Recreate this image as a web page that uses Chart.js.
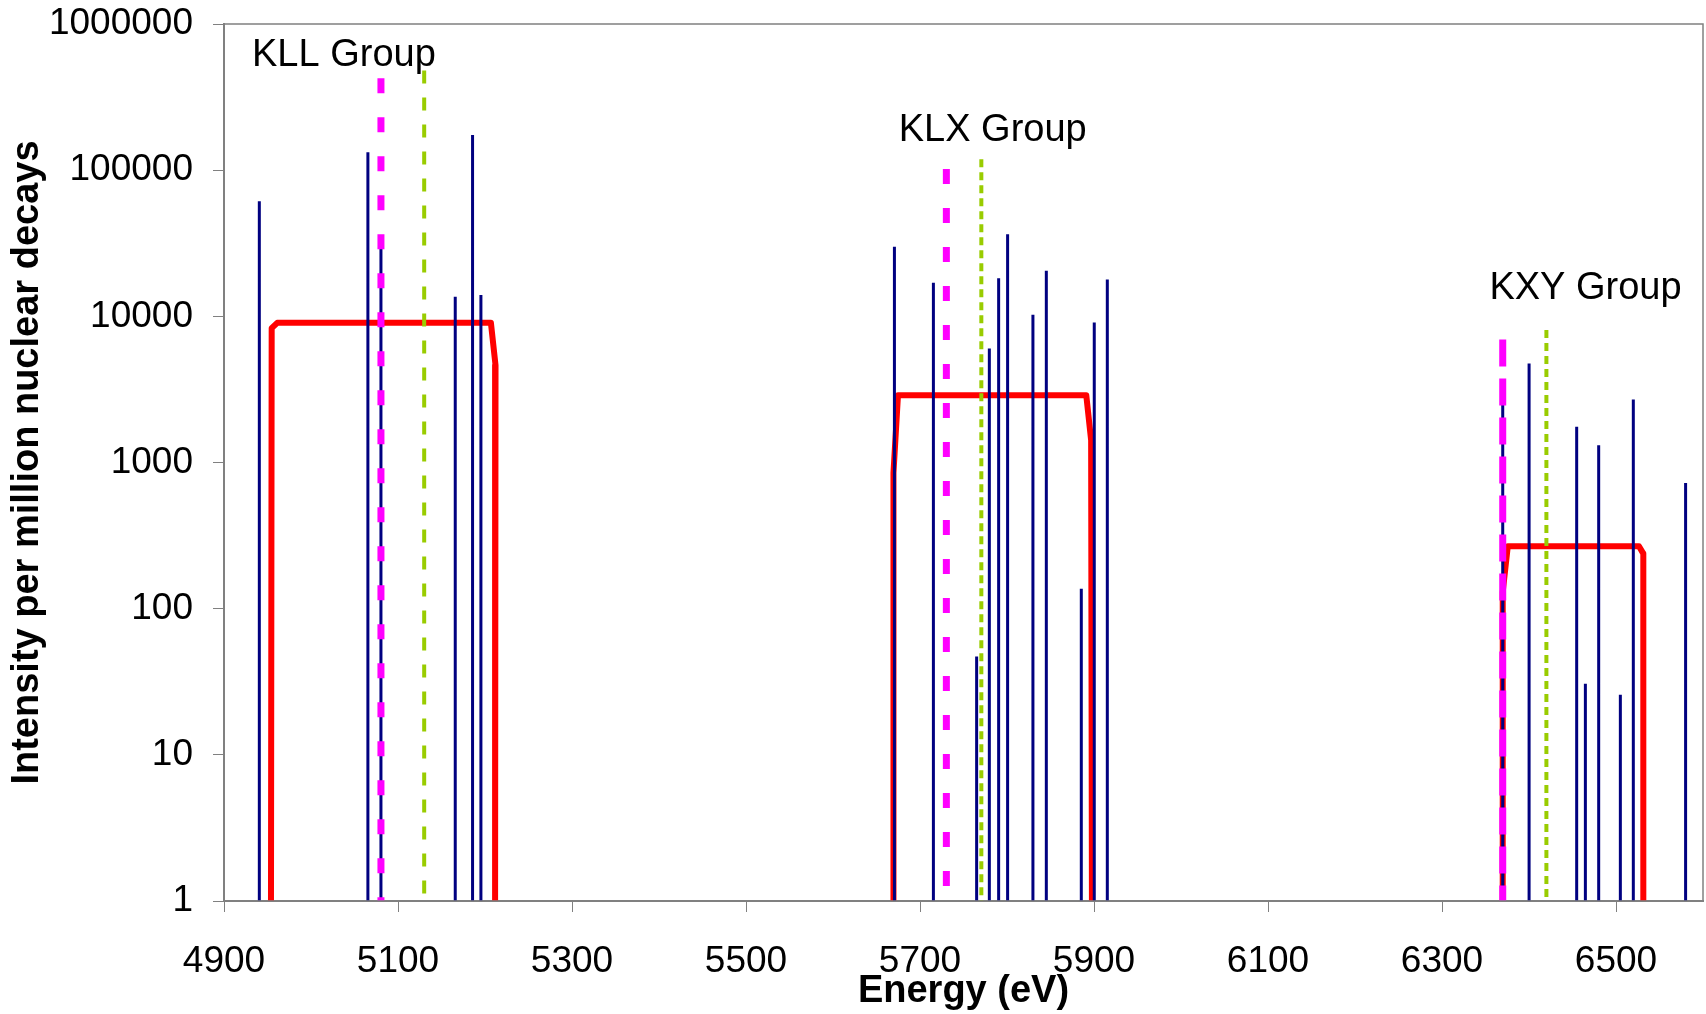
<!DOCTYPE html>
<html lang="en">
<head>
  <meta charset="UTF-8" />
  <title>K Auger spectrum - groups</title>
  <script src="https://cdn.jsdelivr.net/npm/chart.js"></script>
  <style>
    html, body { margin: 0; padding: 0; background: #fff; }
  </style>
</head>
<body>
  <canvas id="augerChart" width="1706" height="1014"></canvas>

  <script>
    // Individual Auger lines (eV, intensity per million decays)
    const peakEnergy = [4940.6, 5065.4, 5080.4, 5165.8, 5185.7, 5195.3,
                        5670.6, 5715.4, 5765.1, 5779.7, 5790.4, 5800.7, 5829.8, 5845.2, 5885.4, 5900.3, 5915.3,
                        6369.8, 6400.1, 6454.8, 6464.8, 6480.1, 6505.0, 6519.9, 6580.0];
    const peakIntensity = [61400, 132400, 30000, 13600, 173800, 14000,
                           29900, 16950, 47, 6030, 18250, 36500, 10240, 20480, 137, 9090, 17870,
                           2700, 4760, 1753, 30.7, 1313, 25.8, 2700, 725];

    // Group envelopes (red)
    const kllBoxEnergy = [4954.0, 4954.8, 4961.2, 5206.8, 5212.1, 5211.6];
    const kllBoxIntensity = [1, 8300, 9030, 9030, 4630, 1];
    const klxBoxEnergy = [5669.0, 5669.5, 5674.7, 5891.1, 5896.7, 5897.6];
    const klxBoxIntensity = [1, 850, 2890, 2890, 1420, 1];
    const kxyBoxEnergy = [6369.1, 6369.8, 6375.6, 6526.4, 6531.4, 6531.4];
    const kxyBoxIntensity = [1, 130, 267, 267, 238, 1];

    // Group markers (magenta dashed, green dotted)
    const meanEnergy = [5080.4, 5730.3, 6369.8];
    const meanTop = [425000, 101800, 6950];
    const centroidEnergy = [5130.1, 5770.5, 6420.0];
    const centroidTop = [480000, 118600, 8050];

    // Group captions
    const groupNames = ['KLL Group', 'KLX Group', 'KXY Group'];
    const groupLabelEnergy = [4932.2, 5675.5, 6354.5];
    const groupLabelIntensity = [515800, 158000, 13100];

    // Axis ticks
    const xTickValues = [4900, 5100, 5300, 5500, 5700, 5900, 6100, 6300, 6500];
    const yTickValues = [1, 10, 100, 1000, 10000, 100000, 1000000];

    const FONT = "'Liberation Sans', Arial, sans-serif";
    const magentaDash = [[15, 24], [15, 24], [27, 12]];
    const greenDash = [[13, 14], [8, 5], [8, 5]];

    // sticks: bottom -> top, then a gap
    const stickPoints = [];
    peakEnergy.forEach((e, i) => {
      stickPoints.push({ x: e, y: 1 }, { x: e, y: peakIntensity[i] }, { x: e, y: null });
    });

    function toPoints(xs, ys) {
      return xs.map((x, i) => ({ x: x, y: ys[i] }));
    }

    const datasets = [];
    // first dataset is drawn on top
    meanEnergy.forEach((e, i) => {
      datasets.push({
        label: 'mean ' + groupNames[i],
        data: [{ x: e, y: meanTop[i] }, { x: e, y: 1 }],
        borderColor: '#FF00FF', borderWidth: 7, borderDash: magentaDash[i],
        pointRadius: 0, borderCapStyle: 'butt'
      });
    });
    centroidEnergy.forEach((e, i) => {
      datasets.push({
        label: 'centroid ' + groupNames[i],
        data: [{ x: e, y: centroidTop[i] }, { x: e, y: 1 }],
        borderColor: '#99CC00', borderWidth: 4, borderDash: greenDash[i],
        pointRadius: 0, borderCapStyle: 'butt'
      });
    });
    datasets.push({
      label: 'lines',
      data: stickPoints,
      borderColor: '#000080', borderWidth: 3,
      pointRadius: 0, spanGaps: false
    });
    [[kllBoxEnergy, kllBoxIntensity], [klxBoxEnergy, klxBoxIntensity], [kxyBoxEnergy, kxyBoxIntensity]].forEach((b, i) => {
      datasets.push({
        label: 'envelope ' + groupNames[i],
        data: toPoints(b[0], b[1]),
        borderColor: '#FF0000', borderWidth: 6,
        borderJoinStyle: 'round', pointRadius: 0
      });
    });

    // frame around plot + group captions
    const decorPlugin = {
      id: 'decor',
      afterDraw(chart) {
        const { ctx, chartArea, scales } = chart;
        ctx.save();
        ctx.strokeStyle = '#808080';
        ctx.lineWidth = 1.5;
        ctx.strokeRect(chartArea.left, chartArea.top, chartArea.right - chartArea.left, chartArea.bottom - chartArea.top);
        ctx.fillStyle = '#000';
        ctx.font = '38px ' + FONT;
        ctx.textAlign = 'left';
        ctx.textBaseline = 'alphabetic';
        groupNames.forEach((name, i) => {
          ctx.fillText(name, scales.x.getPixelForValue(groupLabelEnergy[i]), scales.y.getPixelForValue(groupLabelIntensity[i]));
        });
        ctx.restore();
      }
    };

    new Chart(document.getElementById('augerChart'), {
      type: 'line',
      data: { datasets: datasets },
      options: {
        responsive: false,
        animation: false,
        events: [],
        elements: { line: { tension: 0 } },
        layout: { padding: { top: 24, right: 3, bottom: 0, left: 0 } },
        plugins: {
          legend: { display: false },
          tooltip: { enabled: false },
          title: { display: false }
        },
        scales: {
          x: {
            type: 'linear',
            min: 4900,
            max: 6600,
            afterBuildTicks: axis => { axis.ticks = xTickValues.map(v => ({ value: v })); },
            afterFit: axis => { axis.height = 113; axis.paddingRight = 0; },
            grid: { drawOnChartArea: false, tickLength: 11, color: '#808080' },
            border: { color: '#808080', width: 2 },
            ticks: {
              color: '#000', padding: 28, maxRotation: 0, autoSkip: false,
              font: { family: FONT, size: 37 },
              callback: v => String(v)
            },
            title: {
              display: true, text: 'Energy (eV)', color: '#000',
              font: { family: FONT, size: 38, weight: 'bold' },
              padding: 0
            }
          },
          y: {
            type: 'logarithmic',
            min: 1,
            max: 1000000,
            afterBuildTicks: axis => { axis.ticks = yTickValues.map(v => ({ value: v })); },
            afterFit: axis => { axis.width = 224; axis.paddingTop = 0; axis.paddingBottom = 0; },
            grid: { drawOnChartArea: false, tickLength: 11, color: '#808080' },
            border: { color: '#808080', width: 2 },
            ticks: {
              color: '#000', padding: 20, autoSkip: false,
              font: { family: FONT, size: 37 },
              callback: v => String(v)
            },
            title: {
              display: true, text: 'Intensity per million nuclear decays', color: '#000',
              font: { family: FONT, size: 38, weight: 'bold' },
              padding: { top: 5, bottom: 0 }
            }
          }
        }
      },
      plugins: [decorPlugin]
    });
  </script>
</body>
</html>
